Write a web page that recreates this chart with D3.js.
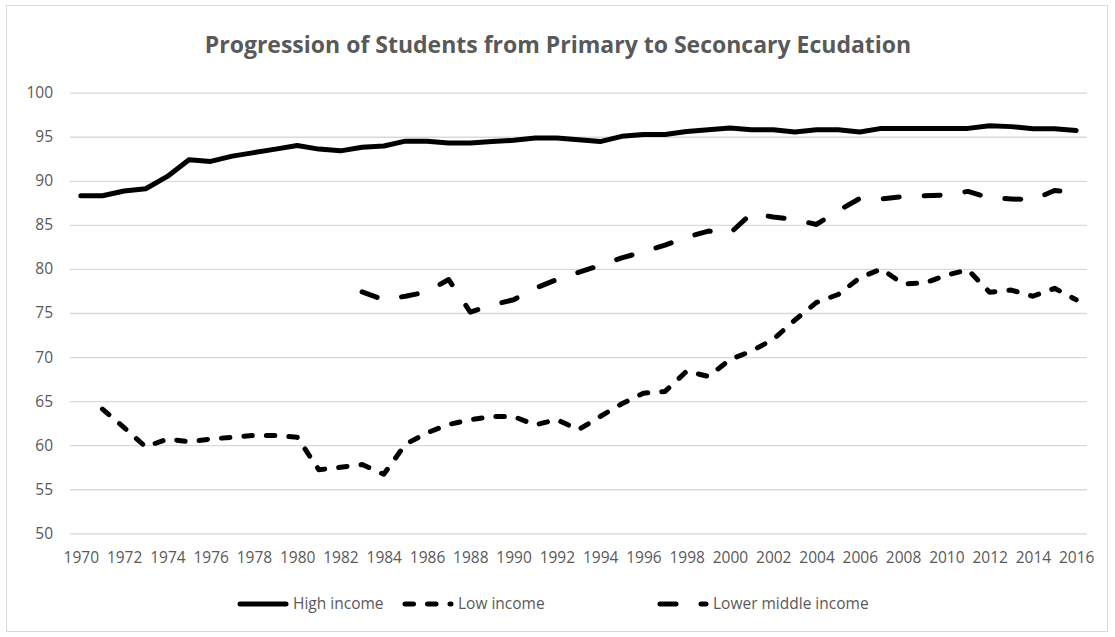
<!DOCTYPE html>
<html>
<head>
<meta charset="utf-8">
<script src="https://cdn.jsdelivr.net/npm/d3@7"></script>
<style>
  html, body { margin: 0; padding: 0; background: #fff; }
  svg { display: block; }
</style>
</head>
<body>
<svg id="chart" width="1115" height="637"></svg>
<script>
const years = [1970,1971,1972,1973,1974,1975,1976,1977,1978,1979,1980,1981,1982,1983,1984,1985,1986,1987,1988,1989,1990,1991,1992,1993,1994,1995,1996,1997,1998,1999,2000,2001,2002,2003,2004,2005,2006,2007,2008,2009,2010,2011,2012,2013,2014,2015,2016];

const highIncome = [88.3,88.3,88.85,89.1,90.5,92.4,92.2,92.8,93.2,93.6,94.0,93.6,93.4,93.8,93.95,94.5,94.5,94.3,94.3,94.45,94.6,94.85,94.85,94.65,94.45,95.05,95.25,95.25,95.6,95.8,96.0,95.8,95.8,95.55,95.8,95.8,95.55,95.95,95.95,95.95,95.95,95.95,96.25,96.15,95.9,95.9,95.7];

const lowIncome = [null,64.1,62.0,59.8,60.7,60.4,60.7,60.9,61.1,61.1,60.9,57.2,57.5,57.8,56.7,60.1,61.4,62.35,62.9,63.25,63.25,62.3,62.9,61.75,63.25,64.7,65.9,66.1,68.4,67.8,69.7,70.7,72.0,74.2,76.2,77.1,79.0,80.0,78.3,78.4,79.3,79.9,77.35,77.6,76.9,77.8,76.5];

const lowerMiddleIncome = [null,null,null,null,null,null,null,null,null,null,null,null,null,77.4,76.5,76.9,77.4,78.8,75.1,75.9,76.5,77.8,78.8,79.6,80.4,81.25,81.95,82.7,83.6,84.3,84.05,86.3,85.9,85.6,85.05,86.6,88.0,87.95,88.2,88.3,88.4,88.8,88.05,87.95,87.85,88.9,88.7];

const yTicks = [50,55,60,65,70,75,80,85,90,95,100];
const xTickLabels = years.filter(y => y % 2 === 0);
const seriesNames = ["High income", "Low income", "Lower middle income"];
const titleText = "Progression of Students from Primary to Seconcary Ecudation";

const series = [
  { name: seriesNames[0], values: highIncome, dash: null },
  { name: seriesNames[1], values: lowIncome, dash: "8.5,14" },
  { name: seriesNames[2], values: lowerMiddleIncome, dash: "16,25" }
];

const svg = d3.select("#chart");
const textColor = "#595959";
const fontFam = "'Open Sans', 'Noto Sans', sans-serif";

// chart border
svg.append("rect")
  .attr("x", 6.5).attr("y", 5.5)
  .attr("width", 1101).attr("height", 626)
  .attr("fill", "#fff").attr("stroke", "#d9d9d9").attr("stroke-width", 1);

const plot = { left: 70, right: 1087, top: 92.7, bottom: 533.3 };

const x = d3.scalePoint().domain(years).range([plot.left, plot.right]).padding(0.5);
const y = d3.scaleLinear().domain([50, 100]).range([plot.bottom, plot.top]);

// gridlines + y labels
const yAxis = d3.axisLeft(y).tickValues(yTicks).tickSize(-(plot.right - plot.left)).tickPadding(17);
const gy = svg.append("g").attr("transform", `translate(${plot.left},0)`).call(yAxis);
gy.select(".domain").remove();
gy.selectAll(".tick line").attr("stroke", "#d9d9d9").attr("stroke-width", 1.3);
gy.selectAll(".tick text").attr("fill", textColor).attr("font-family", fontFam).attr("font-size", 15.5);

// x axis labels
const xAxis = d3.axisBottom(x).tickValues(xTickLabels).tickSize(0).tickPadding(19).tickFormat(d3.format("d"));
const gx = svg.append("g").attr("transform", `translate(0,${plot.bottom})`).call(xAxis);
gx.select(".domain").remove();
gx.selectAll(".tick text").attr("fill", textColor).attr("font-family", fontFam).attr("font-size", 15.5);

// lines
const line = d3.line()
  .defined(d => d.v != null)
  .x(d => x(d.year))
  .y(d => y(d.v));

series.forEach(s => {
  const pts = years.map((yr, i) => ({ year: yr, v: s.values[i] }));
  const p = svg.append("path")
    .datum(pts)
    .attr("d", line)
    .attr("fill", "none")
    .attr("stroke", "#000")
    .attr("stroke-width", 5)
    .attr("stroke-linecap", "round")
    .attr("stroke-linejoin", "round");
  if (s.dash) p.attr("stroke-dasharray", s.dash);
});

// title
svg.append("text")
  .attr("x", 558).attr("y", 53)
  .attr("text-anchor", "middle")
  .attr("fill", textColor)
  .attr("font-family", fontFam)
  .attr("font-weight", "bold")
  .attr("font-size", 23)
  .text(titleText);

// legend
const legendItems = [
  { s: series[0], x0: 240 },
  { s: series[1], x0: 405 },
  { s: series[2], x0: 660 }
];
const ly = 604;
legendItems.forEach(it => {
  const ln = svg.append("line")
    .attr("x1", it.x0).attr("x2", it.x0 + 46)
    .attr("y1", ly).attr("y2", ly)
    .attr("stroke", "#000").attr("stroke-width", 5)
    .attr("stroke-linecap", "round");
  if (it.s.dash) ln.attr("stroke-dasharray", it.s.dash);
  svg.append("text")
    .attr("x", it.x0 + 53).attr("y", ly)
    .attr("dy", "0.35em")
    .attr("fill", textColor)
    .attr("font-family", fontFam)
    .attr("font-size", 15.5)
    .text(it.s.name);
});
</script>
</body>
</html>
